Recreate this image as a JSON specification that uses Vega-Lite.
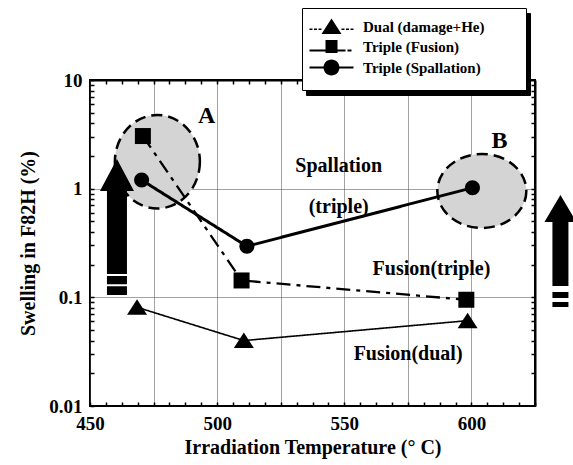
{
  "$schema": "https://vega.github.io/schema/vega-lite/v6.json",
  "width": 445,
  "height": 326,
  "autosize": "none",
  "padding": {"left": 90, "top": 80, "right": 38, "bottom": 59},
  "background": "white",
  "datasets": {
    "series": [
      {"series": "Dual (damage+He)", "temp": 468.5, "swelling": 0.081},
      {"series": "Dual (damage+He)", "temp": 510.5, "swelling": 0.040},
      {"series": "Dual (damage+He)", "temp": 598.5, "swelling": 0.061},
      {"series": "Triple (Fusion)", "temp": 470.8, "swelling": 3.05},
      {"series": "Triple (Fusion)", "temp": 509.6, "swelling": 0.143},
      {"series": "Triple (Fusion)", "temp": 598.0, "swelling": 0.095},
      {"series": "Triple (Spallation)", "temp": 470.3, "swelling": 1.2},
      {"series": "Triple (Spallation)", "temp": 511.7, "swelling": 0.295},
      {"series": "Triple (Spallation)", "temp": 600.4, "swelling": 1.02}
    ],
    "regions": [
      {"region": "A", "temp": 476.5, "swelling": 1.77},
      {"region": "B", "temp": 604.1, "swelling": 0.952}
    ],
    "arrows": [
      {"arrow": "left", "temp": 460.6, "swelling": 0.45},
      {"arrow": "right", "temp": 635.0, "swelling": 0.3}
    ],
    "letters": [
      {"text": "A", "temp": 495.9, "swelling": 4.02},
      {"text": "B", "temp": 611.0, "swelling": 2.37}
    ],
    "notes": [
      {"text": "Spallation", "temp": 547.8, "swelling": 1.42},
      {"text": "(triple)", "temp": 547.8, "swelling": 0.597},
      {"text": "Fusion(triple)", "temp": 584.3, "swelling": 0.1607},
      {"text": "Fusion(dual)", "temp": 575.1, "swelling": 0.0265}
    ]
  },
  "resolve": {"axis": {"x": "independent", "y": "independent"}, "scale": {"shape": "independent"}, "legend": {"shape": "independent"}},
  "layer": [
    {
      "data": {"name": "regions"},
      "transform": [{"filter": "datum.region === 'A'"}],
      "mark": {"type": "point", "shape": "M1,0C1,0.6075 0.5523,1.1 0,1.1C-0.5523,1.1 -1,0.6075 -1,0C-1,-0.6075 -0.5523,-1.1 0,-1.1C0.5523,-1.1 1,-0.6075 1,0Z", "size": 7225, "filled": true, "fill": "#d4d4d4", "stroke": "black", "strokeWidth": 2.5, "strokeDash": [11, 6], "opacity": 1, "fillOpacity": 1, "strokeOpacity": 1},
      "encoding": {
        "x": {"field": "temp", "type": "quantitative", "scale": {"domain": [450, 625], "nice": false, "zero": false},
          "axis": {"orient": "bottom", "title": "Irradiation Temperature (° C)",
            "values": [450, 456.25, 462.5, 468.75, 475, 481.25, 487.5, 493.75, 500, 506.25, 512.5, 518.75, 525, 531.25, 537.5, 543.75, 550, 556.25, 562.5, 568.75, 575, 581.25, 587.5, 593.75, 600, 606.25, 612.5, 618.75, 625],
            "labelExpr": "datum.value % 50 == 0 ? datum.label : ''", "labelFlush": false, "labelOverlap": false,
            "ticks": true, "tickSize": -4, "tickWidth": 1.5, "tickColor": "black", "tickOpacity": 1,
            "domain": false, "grid": true, "gridColor": "#444", "gridDash": [1, 1], "gridWidth": 1,
            "gridOpacity": {"condition": {"test": "datum.value % 25 == 0", "value": 1}, "value": 0},
            "labelPadding": 12, "titlePadding": 4}},
        "y": {"field": "swelling", "type": "quantitative", "scale": {"type": "log", "domain": [0.01, 10], "nice": false},
          "axis": {"orient": "left", "title": "Swelling in F82H (%)",
            "values": [0.01, 0.02, 0.03, 0.04, 0.05, 0.06, 0.07, 0.08, 0.09, 0.1, 0.2, 0.3, 0.4, 0.5, 0.6, 0.7, 0.8, 0.9, 1, 2, 3, 4, 5, 6, 7, 8, 9, 10],
            "labelExpr": "indexof([0.01, 0.1, 1, 10], datum.value) >= 0 ? format(datum.value, '~g') : ''", "labelFlush": false, "labelOverlap": false,
            "ticks": true, "tickSize": -4, "tickWidth": 1.5, "tickColor": "black", "tickOpacity": 1,
            "domain": false, "grid": true, "gridColor": "#444", "gridDash": [1, 1], "gridWidth": 1,
            "gridOpacity": {"condition": {"test": "indexof([0.1, 1], datum.value) >= 0", "value": 1}, "value": 0},
            "labelPadding": 12, "titlePadding": 10}}
      }
    },
    {
      "data": {"name": "regions"},
      "transform": [{"filter": "datum.region === 'B'"}],
      "mark": {"type": "point", "shape": "M1,0C1,0.459 0.5523,0.831 0,0.831C-0.5523,0.831 -1,0.459 -1,0C-1,-0.459 -0.5523,-0.831 0,-0.831C0.5523,-0.831 1,-0.459 1,0Z", "size": 7921, "filled": true, "fill": "#d4d4d4", "stroke": "black", "strokeWidth": 2.5, "strokeDash": [11, 6], "opacity": 1, "fillOpacity": 1, "strokeOpacity": 1},
      "encoding": {
        "x": {"field": "temp", "type": "quantitative",
          "axis": {"orient": "top", "title": null, "labels": true, "labelExpr": "''", "grid": false,
            "domain": true, "domainColor": "black", "domainWidth": 2,
            "ticks": true, "tickSize": -4, "tickWidth": 1.5, "tickColor": "black", "tickOpacity": 1,
            "values": [456.25, 462.5, 468.75, 475, 481.25, 487.5, 493.75, 500, 506.25, 512.5, 518.75, 525, 531.25, 537.5, 543.75, 550, 556.25, 562.5, 568.75, 575, 581.25, 587.5, 593.75, 600, 606.25, 612.5, 618.75]}},
        "y": {"field": "swelling", "type": "quantitative",
          "axis": {"orient": "right", "title": null, "labels": true, "labelExpr": "''", "grid": false,
            "domain": true, "domainColor": "black", "domainWidth": 2,
            "ticks": true, "tickSize": -4, "tickWidth": 1.5, "tickColor": "black", "tickOpacity": 1,
            "values": [0.02, 0.03, 0.04, 0.05, 0.06, 0.07, 0.08, 0.09, 0.1, 0.2, 0.3, 0.4, 0.5, 0.6, 0.7, 0.8, 0.9, 1, 2, 3, 4, 5, 6, 7, 8, 9]}}
      }
    },
    {
      "data": {"name": "series"},
      "mark": {"type": "line", "color": "black"},
      "encoding": {
        "x": {"field": "temp", "type": "quantitative", "axis": null},
        "y": {"field": "swelling", "type": "quantitative", "axis": null},
        "detail": {"field": "series"},
        "strokeDash": {"field": "series", "type": "nominal", "legend": null,
          "scale": {"domain": ["Dual (damage+He)", "Triple (Fusion)", "Triple (Spallation)"], "range": [[1, 0], [14, 6, 4, 6], [1, 0]]}},
        "strokeWidth": {"field": "series", "type": "nominal", "legend": null,
          "scale": {"domain": ["Dual (damage+He)", "Triple (Fusion)", "Triple (Spallation)"], "range": [1.6, 3, 2.6]}}
      }
    },
    {
      "data": {"name": "series"},
      "mark": {"type": "point", "filled": true, "color": "black", "size": 4, "opacity": 1},
      "encoding": {
        "x": {"field": "temp", "type": "quantitative", "axis": null},
        "y": {"field": "swelling", "type": "quantitative", "axis": null},
        "shape": {"field": "series", "type": "nominal", "legend": null,
          "scale": {"domain": ["Dual (damage+He)", "Triple (Fusion)", "Triple (Spallation)"],
            "range": ["M0,-8L10,7.5L-10,7.5Z", "M-8,-8H8V8H-8Z", "M7.5,0C7.5,4.14 4.14,7.5 0,7.5C-4.14,7.5 -7.5,4.14 -7.5,0C-7.5,-4.14 -4.14,-7.5 0,-7.5C4.14,-7.5 7.5,-4.14 7.5,0Z"]}}
      }
    },
    {
      "data": {"name": "arrows"},
      "mark": {"type": "point", "filled": true, "color": "black", "size": 4, "opacity": 1, "clip": false},
      "encoding": {
        "x": {"field": "temp", "type": "quantitative", "axis": null},
        "y": {"field": "swelling", "type": "quantitative", "axis": null},
        "shape": {"field": "arrow", "type": "nominal", "legend": null,
          "scale": {"domain": ["left", "right"],
            "range": ["M0,-67.4L17,-35.4L10,-35.4L10,47.6L-10,47.6L-10,-35.4L-17,-35.4ZM-10,49.6H10V58H-10ZM-10,60H10V68.6H-10Z",
                      "M0,-50.5L16,-23.5L8,-23.5L8,40.5L-8,40.5L-8,-23.5L-16,-23.5ZM-8,46.5H8V52.5H-8ZM-8,56.5H8V61.5H-8Z"]}}
      }
    },
    {
      "data": {"name": "letters"},
      "mark": {"type": "text", "font": "Liberation Serif", "fontWeight": "bold", "fontSize": 24, "align": "center", "baseline": "alphabetic", "color": "black"},
      "encoding": {
        "x": {"field": "temp", "type": "quantitative", "axis": null},
        "y": {"field": "swelling", "type": "quantitative", "axis": null},
        "text": {"field": "text"}
      }
    },
    {
      "data": {"name": "notes"},
      "mark": {"type": "text", "font": "Liberation Serif", "fontWeight": "bold", "fontSize": 20, "align": "center", "baseline": "alphabetic", "color": "black"},
      "encoding": {
        "x": {"field": "temp", "type": "quantitative", "axis": null},
        "y": {"field": "swelling", "type": "quantitative", "axis": null},
        "text": {"field": "text"}
      }
    },
    {
      "data": {"name": "series"},
      "transform": [{"filter": "false"}],
      "mark": {"type": "point", "filled": true, "color": "black", "size": 4, "opacity": 1},
      "encoding": {
        "shape": {"field": "series", "type": "nominal",
          "scale": {"domain": ["Dual (damage+He)", "Triple (Fusion)", "Triple (Spallation)"],
            "range": ["M0,-8L10,7.5L-10,7.5Z", "M-6,-6.5H6V6.5H-6Z", "M8,0C8,4.42 4.42,8 0,8C-4.42,8 -8,4.42 -8,0C-8,-4.42 -4.42,-8 0,-8C4.42,-8 8,-4.42 8,0Z"]},
          "legend": {
            "orient": "none", "legendX": 216, "legendY": -67, "title": ".", "titleOrient": "right", "titlePadding": 28,
            "titleFontSize": 10, "titleOpacity": 0,
            "labelFont": "Liberation Serif", "labelFontWeight": "bold", "labelFontSize": 15, "labelColor": "black",
            "symbolSize": 4, "padding": 11, "rowPadding": 0, "symbolOffset": 11, "labelOffset": 24, "labelLimit": 400,
            "fillColor": "black", "strokeColor": "black"
          }}
      }
    },
    {
      "data": {"name": "series"},
      "transform": [{"filter": "false"}],
      "mark": {"type": "point", "filled": true, "color": "black", "size": 4, "opacity": 1},
      "encoding": {
        "shape": {"field": "series", "type": "nominal",
          "scale": {"domain": ["Dual (damage+He)", "Triple (Fusion)", "Triple (Spallation)"],
            "range": ["M0,-8L10,7.5L-10,7.5ZM-22,2H-19V3.5H-22ZM-17.5,2H-14.5V3.5H-17.5ZM-13,2H-10V3.5H-13ZM10,2H13V3.5H10ZM14.5,2H17.5V3.5H14.5ZM19,2H22V3.5H19Z",
                      "M-6,-6.5H6V6.5H-6ZM-22,3H-6V5H-22ZM6,3H14V5H6ZM16,3H20V5H16Z",
                      "M8,0C8,4.42 4.42,8 0,8C-4.42,8 -8,4.42 -8,0C-8,-4.42 -4.42,-8 0,-8C4.42,-8 8,-4.42 8,0ZM-22,-1H22V1H-22Z"]},
          "legend": {
            "orient": "none", "legendX": 212, "legendY": -72, "title": ".", "titleOrient": "right", "titlePadding": 28,
            "titleFontSize": 10, "titleOpacity": 0,
            "labelFont": "Liberation Serif", "labelFontWeight": "bold", "labelFontSize": 15, "labelColor": "black",
            "symbolSize": 4, "padding": 11, "rowPadding": 0, "symbolOffset": 11, "labelOffset": 24, "labelLimit": 400,
            "fillColor": "white", "strokeColor": "black"
          }}
      }
    }
  ],
  "config": {
    "font": "Liberation Serif",
    "view": {"stroke": "black", "strokeWidth": 2},
    "axis": {
      "labelFont": "Liberation Serif", "labelFontWeight": "bold", "labelFontSize": 19, "labelColor": "black",
      "titleFont": "Liberation Serif", "titleFontWeight": "bold", "titleFontSize": 20, "titleColor": "black"
    }
  }
}
